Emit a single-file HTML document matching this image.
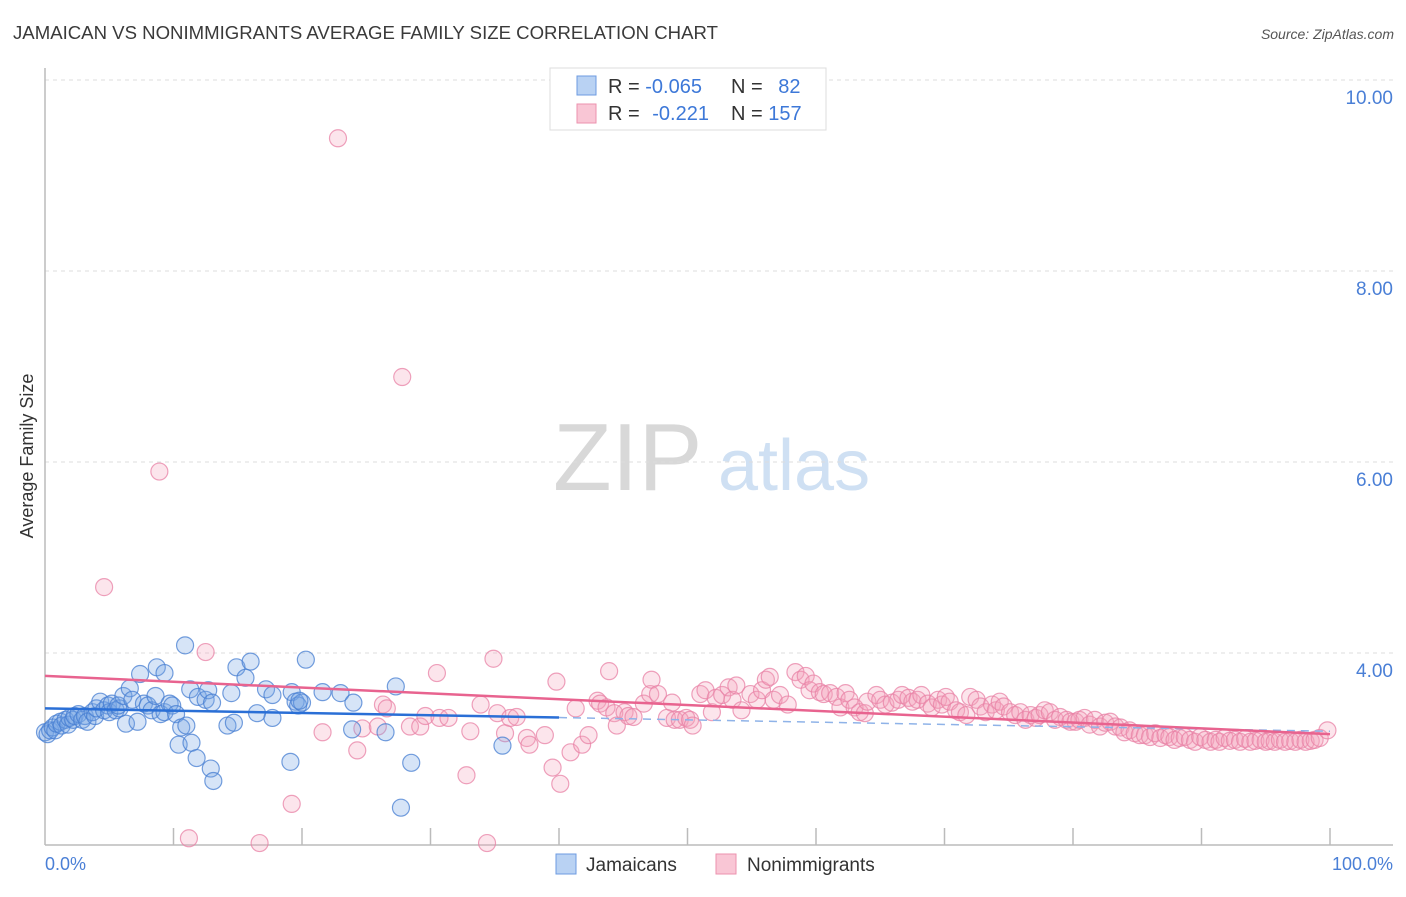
<!DOCTYPE html>
<html><head><meta charset="utf-8"><style>
body{margin:0;background:#fff;font-family:"Liberation Sans",sans-serif}
svg text{font-family:"Liberation Sans",sans-serif}
</style></head><body>
<svg id="chart" width="1406" height="892" viewBox="0 0 1406 892" xmlns="http://www.w3.org/2000/svg">
<text x="13" y="39" font-size="18.6" fill="#3a3a3a">JAMAICAN VS NONIMMIGRANTS AVERAGE FAMILY SIZE CORRELATION CHART</text>
<text x="1394" y="39" font-size="14" fill="#555" font-style="italic" text-anchor="end">Source: ZipAtlas.com</text>
<g>
<text x="553" y="490" font-size="96" fill="#d8d8d8" font-family="Liberation Serif,serif">ZIP</text>
<text x="718" y="490" font-size="72" fill="#cfe0f3">atlas</text>
</g>
<g id="grid"></g>
<g id="yticks"></g>
<line x1="45" y1="68" x2="45" y2="845" stroke="#bbb" stroke-width="1.5"/>
<line x1="45" y1="845" x2="1393" y2="845" stroke="#bbb" stroke-width="1.5"/>
<g id="xticks"></g>
<text x="45" y="870" font-size="18" fill="#4a7fd6">0.0%</text>
<text x="1393" y="870" font-size="18" fill="#4a7fd6" text-anchor="end">100.0%</text>
<text transform="translate(33,456) rotate(-90)" font-size="18" fill="#333" text-anchor="middle">Average Family Size</text>
<g id="pink"></g>
<g id="blue"></g>
<g id="trends"></g>
<g>
<rect x="550" y="68" width="276" height="62" fill="#fff" stroke="#ddd"/>
<rect x="577" y="76" width="19" height="19" fill="#b9d2f3" stroke="#6d9be0"/>
<rect x="577" y="104" width="19" height="19" fill="#f9c6d5" stroke="#ec92ae"/>
<text x="608" y="93" font-size="20" fill="#333">R = <tspan fill="#3d78d8">-0.065</tspan></text>
<text x="731" y="93" font-size="20" fill="#333">N = <tspan fill="#3d78d8" dx="10">82</tspan></text>
<text x="608" y="120" font-size="20" fill="#333">R = <tspan fill="#3d78d8" dx="7">-0.221</tspan></text>
<text x="731" y="120" font-size="20" fill="#333">N = <tspan fill="#3d78d8">157</tspan></text>
</g>
<g>
<rect x="556" y="854" width="20" height="20" fill="#b9d2f3" stroke="#6d9be0"/>
<text x="586" y="871" font-size="19" fill="#333">Jamaicans</text>
<rect x="716" y="854" width="20" height="20" fill="#f9c6d5" stroke="#ec92ae"/>
<text x="747" y="871" font-size="19" fill="#333">Nonimmigrants</text>
</g>
</svg>
<script>
const yTicks=[4,6,8,10];
const yTickLabels=["4.00","6.00","8.00","10.00"];
const xTicks=[10,20,30,40,50,60,70,80,90,100];
const blueX=[0,0.2,0.4,0.6,0.8,0.9,1.2,1.3,1.6,1.8,1.9,2.2,2.3,2.6,2.9,3.1,3.3,3.7,3.9,4.0,4.3,4.6,4.9,5.0,5.2,5.5,5.8,5.7,6.1,6.3,6.6,6.8,7.2,7.4,7.7,8.0,8.3,8.6,8.7,9.0,9.3,9.3,9.7,9.9,10.2,10.4,10.6,10.9,11.0,11.3,11.4,11.8,11.9,12.5,12.7,12.9,13.1,13.0,14.2,14.5,14.7,14.9,15.6,16.0,16.5,17.2,17.7,17.7,19.1,19.2,19.5,19.7,20.0,19.8,20.3,21.6,23.0,23.9,24.0,26.5,27.3,27.7,28.5,35.6];
const blueY=[3.17,3.15,3.19,3.22,3.19,3.26,3.28,3.24,3.30,3.25,3.32,3.30,3.34,3.36,3.30,3.34,3.28,3.38,3.34,3.42,3.49,3.40,3.45,3.38,3.47,3.40,3.42,3.45,3.55,3.26,3.63,3.51,3.28,3.78,3.47,3.45,3.40,3.55,3.85,3.36,3.79,3.38,3.47,3.45,3.36,3.04,3.22,4.08,3.24,3.62,3.06,2.90,3.54,3.51,3.61,2.79,2.66,3.48,3.24,3.58,3.27,3.85,3.74,3.91,3.37,3.62,3.56,3.32,2.86,3.59,3.49,3.45,3.48,3.50,3.93,3.59,3.58,3.20,3.48,3.17,3.65,2.38,2.85,3.03];
const pinkX=[4.6,8.9,11.2,12.5,16.7,19.2,21.6,22.8,24.3,24.7,25.9,26.3,26.6,27.8,28.4,29.2,29.6,30.5,30.7,31.4,32.8,33.1,33.9,34.4,34.9,35.2,35.8,36.2,36.7,37.5,37.7,38.9,39.5,39.8,40.1,40.9,41.3,41.8,42.3,43.0,
43.2,43.7,43.9,44.3,44.5,45.1,45.4,45.8,46.6,47.1,47.2,47.7,48.4,48.8,49.0,49.4,49.9,50.2,50.4,51.0,51.4,51.9,52.2,52.7,53.2,53.5,53.8,54.2,54.9,55.4,55.8,56.1,56.4,56.7,57.2,57.8,58.4,58.8,59.2,59.5,59.8,60.3,60.6,61.1,61.6,61.9,62.3,62.6,63.0,63.4,63.8,64.0,64.7,65.0,65.4,65.9,66.4,66.7,67.2,67.5,67.9,68.2,68.7,69.0,69.5,69.8,70.1,70.4,70.9,71.2,71.7,72.0,72.5,72.8,73.2,73.7,74.0,74.3,74.6,75.1,75.5,75.9,76.3,76.7,77.1,77.4,77.8,78.2,78.6,79.0,79.5,79.8,80.2,80.5,80.9,81.3,81.7,82.1,82.5,
82.9,83.3,83.7,84.0,84.4,84.8,85.2,85.6,86.0,86.4,86.8,87.2,87.5,87.9,88.3,88.7,89.1,89.5,89.9,90.3,90.7,91.1,91.4,91.8,92.2,92.6,93.0,93.4,93.8,94.2,94.6,95.0,95.3,95.7,96.1,96.5,96.9,97.3,97.7,98.1,98.5,98.8,99.2,99.8];
const pinkY=[4.69,5.90,2.06,4.01,2.01,2.42,3.17,9.39,2.98,3.21,3.23,3.46,3.42,6.89,3.23,3.23,3.34,3.79,3.32,3.32,2.72,3.18,3.46,2.01,3.94,3.37,3.16,3.32,3.33,3.11,3.04,3.14,2.80,3.70,2.63,2.96,3.42,3.04,3.14,3.50,
3.47,3.43,3.81,3.37,3.24,3.38,3.34,3.33,3.47,3.57,3.72,3.57,3.32,3.48,3.30,3.30,3.32,3.30,3.24,3.57,3.61,3.38,3.53,3.56,3.64,3.51,3.66,3.40,3.57,3.51,3.61,3.72,3.75,3.51,3.56,3.46,3.80,3.72,3.76,3.61,3.68,3.59,3.57,3.58,3.54,3.43,3.58,3.51,3.43,3.38,3.37,3.49,3.56,3.51,3.46,3.48,3.51,3.56,3.53,3.49,3.51,3.56,3.47,3.43,3.51,3.46,3.54,3.49,3.40,3.38,3.35,3.54,3.51,3.44,3.38,3.46,3.40,3.49,3.44,3.38,3.35,3.38,3.30,3.35,3.32,3.35,3.40,3.38,3.30,3.33,3.30,3.28,3.28,3.30,3.32,3.25,3.30,3.23,3.27,
3.28,3.23,3.22,3.17,3.19,3.16,3.14,3.14,3.12,3.16,3.11,3.14,3.12,3.09,3.11,3.12,3.09,3.07,3.12,3.09,3.07,3.09,3.07,3.11,3.08,3.09,3.07,3.10,3.07,3.08,3.09,3.07,3.08,3.07,3.09,3.07,3.08,3.07,3.09,3.07,3.08,3.09,3.11,3.19];
const blueTrend=[3.42,3.18];
const pinkTrend=[3.76,3.15];
const blueSolidEnd=40;

const NS="http://www.w3.org/2000/svg";
const xs=v=>45+v*12.85;
const ys=v=>653-(v-4)*95.5;
function mk(tag,attrs,parent){const e=document.createElementNS(NS,tag);for(const k in attrs)e.setAttribute(k,attrs[k]);parent.appendChild(e);return e;}
const grid=document.getElementById('grid'),yt=document.getElementById('yticks'),xt=document.getElementById('xticks');
yTicks.forEach((t,i)=>{
  const g=mk('line',{x1:45,x2:1393,y1:ys(t),y2:ys(t),stroke:'#ddd','stroke-dasharray':'4,4'},grid);
  
  
  const lb=mk('text',{x:1393,y:ys(t)+24,'font-size':19,fill:'#4a7fd6','text-anchor':'end'},yt);
  lb.textContent=yTickLabels[i];
  
  
});
xTicks.forEach(t=>{
  const l=mk('line',{x1:xs(t),x2:xs(t),y1:828,y2:845,stroke:'#bbb','stroke-width':1.5},xt);
  
  
});
const pg=document.getElementById('pink');
pinkX.forEach((x,i)=>{
  const c=mk('circle',{cx:xs(x),cy:ys(pinkY[i]),r:8.5,fill:'rgba(244,160,188,0.28)',stroke:'rgba(232,130,165,0.75)','stroke-width':1.2},pg);
  
  
});
const bg=document.getElementById('blue');
blueX.forEach((x,i)=>{
  const c=mk('circle',{cx:xs(x),cy:ys(blueY[i]),r:8.5,fill:'rgba(120,165,230,0.3)',stroke:'rgba(70,125,210,0.75)','stroke-width':1.2},bg);
  
  
});
const tr=document.getElementById('trends');
const bAt=x=>blueTrend[0]+(blueTrend[1]-blueTrend[0])*x/100;
const l1=mk('line',{x1:xs(0),y1:ys(bAt(0)),x2:xs(blueSolidEnd),y2:ys(bAt(blueSolidEnd)),stroke:'#2a6fd6','stroke-width':2.5},tr);


const l2=mk('line',{x1:xs(blueSolidEnd),y1:ys(bAt(blueSolidEnd)),x2:xs(100),y2:ys(bAt(100)),stroke:'#8fb3e8','stroke-width':1.5,'stroke-dasharray':'8,6'},tr);


const l3=mk('line',{x1:xs(0),y1:ys(pinkTrend[0]),x2:xs(100),y2:ys(pinkTrend[1]),stroke:'#e8638f','stroke-width':2.5},tr);


</script>
</body></html>
